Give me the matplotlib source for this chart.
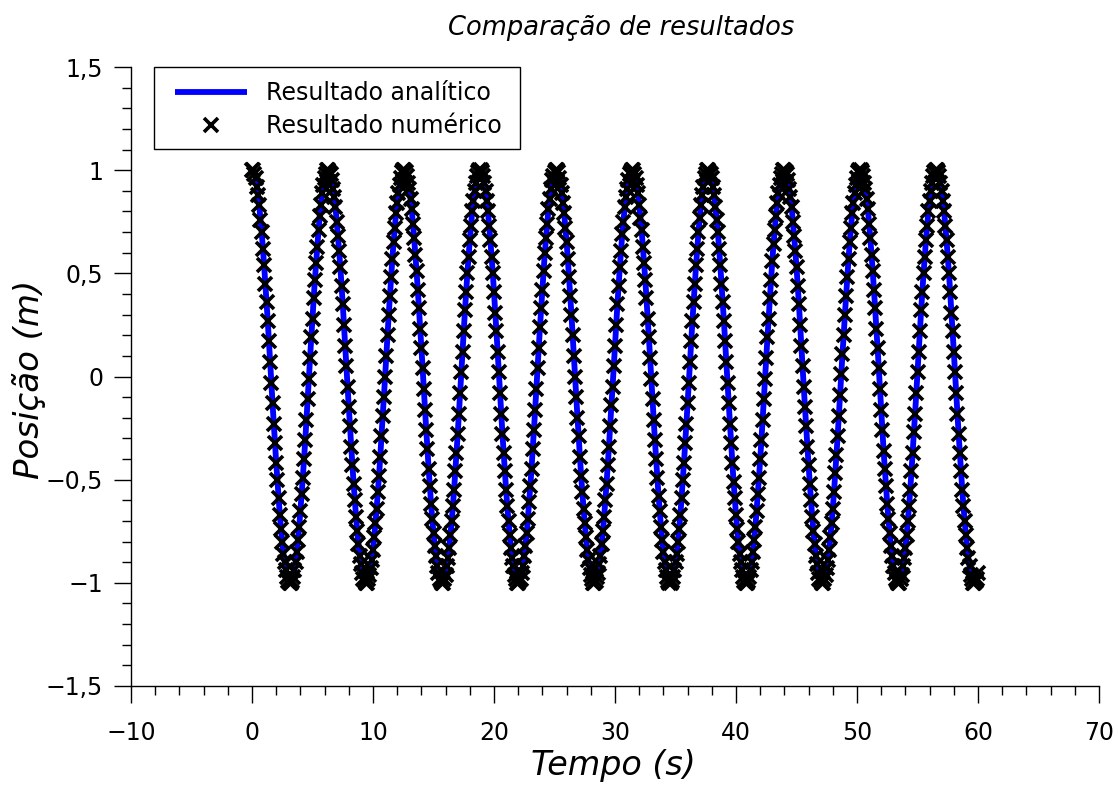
import numpy as np
import matplotlib
matplotlib.use("Agg")
import matplotlib.pyplot as plt
from matplotlib.ticker import MultipleLocator
from matplotlib.patches import Rectangle

# ---------------- data ----------------
titulo = "Comparação de resultados"
rotulo_x = "Tempo (s)"
rotulo_y = "Posição (m)"
legenda_analitico = "Resultado analítico"
legenda_numerico = "Resultado numérico"

t_inicio = 0.0      # first sample time (s)
passo = 0.1         # sample spacing (s)

# position samples (m), one per 0.1 s from t = 0 to t = 60 s
posicao = [
    # 0.0 - 6.2 s
    1.00, 1.00, 0.98, 0.96, 0.92, 0.88, 0.83, 0.76, 0.70, 0.62,
    0.54, 0.45, 0.36, 0.27, 0.17, 0.07, -0.03, -0.13, -0.23, -0.32,
    -0.42, -0.50, -0.59, -0.67, -0.74, -0.80, -0.86, -0.90, -0.94, -0.97,
    -0.99, -1.00, -1.00, -0.99, -0.97, -0.94, -0.90, -0.85, -0.79, -0.73,
    -0.65, -0.57, -0.49, -0.40, -0.31, -0.21, -0.11, -0.01, 0.09, 0.19,
    0.28, 0.38, 0.47, 0.55, 0.63, 0.71, 0.78, 0.83, 0.89, 0.93,
    0.96, 0.98, 1.00,
    # 6.3 - 12.5 s
    1.00, 0.99, 0.98, 0.95, 0.91, 0.87, 0.82, 0.75, 0.68, 0.61,
    0.53, 0.44, 0.35, 0.25, 0.15, 0.05, -0.05, -0.15, -0.24, -0.34,
    -0.43, -0.52, -0.60, -0.68, -0.75, -0.81, -0.87, -0.91, -0.95, -0.98,
    -0.99, -1.00, -1.00, -0.98, -0.96, -0.93, -0.89, -0.84, -0.78, -0.71,
    -0.64, -0.56, -0.48, -0.39, -0.29, -0.19, -0.10, 0.00, 0.10, 0.20,
    0.30, 0.39, 0.48, 0.57, 0.65, 0.72, 0.79, 0.84, 0.89, 0.93,
    0.96, 0.99, 1.00,
    # 12.6 - 18.8 s
    1.00, 0.99, 0.97, 0.94, 0.91, 0.86, 0.81, 0.74, 0.67, 0.59,
    0.51, 0.42, 0.33, 0.23, 0.14, 0.04, -0.06, -0.16, -0.26, -0.35,
    -0.45, -0.53, -0.62, -0.69, -0.76, -0.82, -0.87, -0.92, -0.95, -0.98,
    -0.99, -1.00, -1.00, -0.98, -0.96, -0.92, -0.88, -0.83, -0.77, -0.70,
    -0.63, -0.55, -0.46, -0.37, -0.28, -0.18, -0.08, 0.02, 0.12, 0.22,
    0.32, 0.41, 0.50, 0.58, 0.66, 0.73, 0.80, 0.85, 0.90, 0.94,
    0.97, 0.99, 1.00,
    # 18.9 - 25.1 s
    1.00, 0.99, 0.97, 0.94, 0.90, 0.85, 0.80, 0.73, 0.66, 0.58,
    0.50, 0.41, 0.31, 0.22, 0.12, 0.02, -0.08, -0.18, -0.28, -0.37,
    -0.46, -0.55, -0.63, -0.70, -0.77, -0.83, -0.88, -0.92, -0.96, -0.98,
    -1.00, -1.00, -0.99, -0.98, -0.95, -0.92, -0.87, -0.82, -0.76, -0.69,
    -0.61, -0.53, -0.45, -0.35, -0.26, -0.16, -0.06, 0.04, 0.14, 0.24,
    0.33, 0.42, 0.51, 0.60, 0.67, 0.74, 0.81, 0.86, 0.91, 0.95,
    0.97, 0.99, 1.00,
    # 25.2 - 31.4 s
    1.00, 0.99, 0.96, 0.93, 0.89, 0.84, 0.79, 0.72, 0.65, 0.57,
    0.48, 0.39, 0.30, 0.20, 0.10, 0.00, -0.10, -0.20, -0.29, -0.39,
    -0.48, -0.56, -0.64, -0.71, -0.78, -0.84, -0.89, -0.93, -0.96, -0.98,
    -1.00, -1.00, -0.99, -0.97, -0.95, -0.91, -0.87, -0.81, -0.75, -0.68,
    -0.60, -0.52, -0.43, -0.34, -0.24, -0.14, -0.05, 0.05, 0.15, 0.25,
    0.35, 0.44, 0.53, 0.61, 0.69, 0.75, 0.82, 0.87, 0.91, 0.95,
    0.98, 0.99, 1.00,
    # 31.5 - 37.7 s
    1.00, 0.98, 0.96, 0.93, 0.89, 0.83, 0.77, 0.71, 0.63, 0.55,
    0.47, 0.38, 0.28, 0.19, 0.09, -0.01, -0.11, -0.21, -0.31, -0.40,
    -0.49, -0.58, -0.65, -0.73, -0.79, -0.85, -0.90, -0.94, -0.97, -0.99,
    -1.00, -1.00, -0.99, -0.97, -0.94, -0.90, -0.86, -0.80, -0.74, -0.67,
    -0.59, -0.50, -0.42, -0.32, -0.23, -0.13, -0.03, 0.07, 0.17, 0.27,
    0.36, 0.45, 0.54, 0.62, 0.70, 0.77, 0.83, 0.88, 0.92, 0.96,
    0.98, 1.00, 1.00,
    # 37.8 - 44.0 s
    0.99, 0.98, 0.96, 0.92, 0.88, 0.82, 0.76, 0.70, 0.62, 0.54,
    0.45, 0.36, 0.27, 0.17, 0.07, -0.03, -0.13, -0.23, -0.32, -0.42,
    -0.51, -0.59, -0.67, -0.74, -0.80, -0.86, -0.90, -0.94, -0.97, -0.99,
    -1.00, -1.00, -0.99, -0.97, -0.94, -0.90, -0.85, -0.79, -0.73, -0.65,
    -0.57, -0.49, -0.40, -0.31, -0.21, -0.11, -0.01, 0.09, 0.19, 0.28,
    0.38, 0.47, 0.56, 0.64, 0.71, 0.78, 0.84, 0.89, 0.93, 0.96,
    0.98, 1.00, 1.00,
    # 44.1 - 50.3 s
    0.99, 0.98, 0.95, 0.91, 0.87, 0.82, 0.75, 0.68, 0.61, 0.53,
    0.44, 0.35, 0.25, 0.15, 0.05, -0.05, -0.15, -0.24, -0.34, -0.43,
    -0.52, -0.60, -0.68, -0.75, -0.81, -0.87, -0.91, -0.95, -0.98, -0.99,
    -1.00, -1.00, -0.98, -0.96, -0.93, -0.89, -0.84, -0.78, -0.71, -0.64,
    -0.56, -0.47, -0.38, -0.29, -0.19, -0.09, 0.01, 0.11, 0.20, 0.30,
    0.39, 0.48, 0.57, 0.65, 0.72, 0.79, 0.84, 0.89, 0.93, 0.96,
    0.99, 1.00, 1.00,
    # 50.4 - 56.6 s
    0.99, 0.97, 0.94, 0.91, 0.86, 0.81, 0.74, 0.67, 0.59, 0.51,
    0.42, 0.33, 0.23, 0.14, 0.04, -0.06, -0.16, -0.26, -0.36, -0.45,
    -0.53, -0.62, -0.69, -0.76, -0.82, -0.87, -0.92, -0.95, -0.98, -0.99,
    -1.00, -1.00, -0.98, -0.96, -0.92, -0.88, -0.83, -0.77, -0.70, -0.63,
    -0.55, -0.46, -0.37, -0.27, -0.18, -0.08, 0.02, 0.12, 0.22, 0.32,
    0.41, 0.50, 0.58, 0.66, 0.73, 0.80, 0.85, 0.90, 0.94, 0.97,
    0.99, 1.00, 1.00,
    # 56.7 - 60.0 s
    0.99, 0.97, 0.94, 0.90, 0.85, 0.80, 0.73, 0.66, 0.58, 0.50,
    0.41, 0.31, 0.22, 0.12, 0.02, -0.08, -0.18, -0.28, -0.37, -0.46,
    -0.55, -0.63, -0.70, -0.77, -0.83, -0.88, -0.92, -0.96, -0.98, -1.00,
    -1.00, -0.99, -0.98, -0.95,
]

x_ticks = [-10, 0, 10, 20, 30, 40, 50, 60, 70]
x_ticklabels = ["\u221210", "0", "10", "20", "30", "40", "50", "60", "70"]
y_ticks = [-1.5, -1.0, -0.5, 0.0, 0.5, 1.0, 1.5]
y_ticklabels = ["\u22121,5", "\u22121", "\u22120,5", "0", "0,5", "1", "1,5"]

# ---------------- figure ----------------
plt.rcParams["font.family"] = ["DejaVu Sans"]
W, H = 1118, 793
fig = plt.figure(figsize=(W / 100, H / 100), dpi=100)
L, R, T, B = 131, 1099, 67, 686
ax = fig.add_axes([L / W, 1 - B / H, (R - L) / W, (B - T) / H])

tempo = t_inicio + passo * np.arange(len(posicao))
pos = np.array(posicao)

ax.plot(tempo, pos, color="#0000ff", lw=4.2, zorder=2,
        label=legenda_analitico, solid_capstyle="butt")
ax.plot(tempo, pos, linestyle="none", marker="x", color="black",
        markersize=9.5, markeredgewidth=2.6, zorder=3,
        label=legenda_numerico)

ax.set_xlim(-10, 70)
ax.set_ylim(-1.5, 1.5)
for s in ("top", "right"):
    ax.spines[s].set_visible(False)
for s in ("left", "bottom"):
    ax.spines[s].set_linewidth(1.0)

ax.set_xticks(x_ticks, labels=x_ticklabels)
ax.set_yticks(y_ticks, labels=y_ticklabels)
ax.xaxis.set_minor_locator(MultipleLocator(2))
ax.yaxis.set_minor_locator(MultipleLocator(0.1))
ax.tick_params(which="major", direction="out", length=12, width=1.0,
               labelsize=17, colors="black")
ax.tick_params(axis="x", which="major", pad=13)
ax.tick_params(axis="y", which="major", pad=8)
ax.tick_params(which="minor", direction="out", length=6.5, width=1.0)

# legend frame drawn separately so that padding can differ per side
frame = Rectangle((154 / W, 1 - 149 / H), (520 - 154) / W, (149 - 67) / H,
                  transform=fig.transFigure, facecolor="white",
                  edgecolor="black", lw=1.0, zorder=4.5, clip_on=False)
ax.add_patch(frame)
leg = ax.legend(loc="upper left",
                bbox_to_anchor=(175 / W, 1 - 81.5 / H),
                bbox_transform=fig.transFigure,
                borderaxespad=0, borderpad=0, fontsize=17, frameon=False,
                handlelength=3.05, handletextpad=0.8, labelspacing=0.36,
                markerscale=1.0)
leg.set_zorder(5)

fig.text(621 / W, 1 - 28 / H, titulo, ha="center", va="center",
         fontsize=18.5, style="italic")
fig.text(613 / W, 1 - 765 / H, rotulo_x, ha="center", va="center",
         fontsize=24, style="italic")
fig.text(29 / W, 1 - 379 / H, rotulo_y, ha="center", va="center",
         fontsize=24.5, style="italic", rotation=90)

fig.savefig("out.png", dpi=100)
